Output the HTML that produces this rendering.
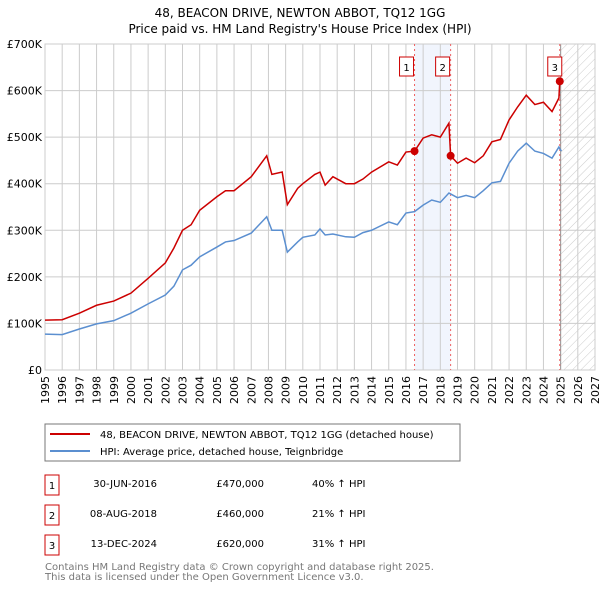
<!DOCTYPE html>
<html><head><meta charset="utf-8"><style>
body{margin:0;background:#fff;font-family:"DejaVu Sans","Liberation Sans",sans-serif}
svg text{font-family:"DejaVu Sans","Liberation Sans",sans-serif}
</style></head><body>
<svg id="chart" width="600" height="590" viewBox="0 0 600 590" xmlns="http://www.w3.org/2000/svg">
<defs><pattern id="hatch" width="6" height="6" patternUnits="userSpaceOnUse" patternTransform="rotate(45)"><line x1="0" y1="0" x2="0" y2="6" stroke="#ccc" stroke-width="1"/></pattern></defs>
<text x="300" y="17" text-anchor="middle" font-size="12">48, BEACON DRIVE, NEWTON ABBOT, TQ12 1GG</text>
<text x="300" y="33" text-anchor="middle" font-size="12">Price paid vs. HM Land Registry's House Price Index (HPI)</text>
<g id="grid"></g><g id="marks"></g><g id="axes"></g>
<rect x="45" y="424" width="415" height="37" fill="#fff" stroke="#777"/>
<line x1="50" y1="434" x2="90" y2="434" stroke="#cc0000" stroke-width="2"/>
<text x="100" y="438" font-size="10">48, BEACON DRIVE, NEWTON ABBOT, TQ12 1GG (detached house)</text>
<line x1="50" y1="451" x2="90" y2="451" stroke="#5b8fd0" stroke-width="2"/>
<text x="100" y="455" font-size="10">HPI: Average price, detached house, Teignbridge</text>
<g font-size="10">
<rect x="45" y="475" width="14" height="20" fill="#fff" stroke="#cc0000"/><text x="52" y="489" text-anchor="middle">1</text>
<text x="157" y="487" text-anchor="end">30-JUN-2016</text><text x="264" y="487" text-anchor="end">£470,000</text><text x="312" y="487">40% ↑ HPI</text>
<rect x="45" y="505" width="14" height="20" fill="#fff" stroke="#cc0000"/><text x="52" y="519" text-anchor="middle">2</text>
<text x="157" y="517" text-anchor="end">08-AUG-2018</text><text x="264" y="517" text-anchor="end">£460,000</text><text x="312" y="517">21% ↑ HPI</text>
<rect x="45" y="535" width="14" height="20" fill="#fff" stroke="#cc0000"/><text x="52" y="549" text-anchor="middle">3</text>
<text x="157" y="547" text-anchor="end">13-DEC-2024</text><text x="264" y="547" text-anchor="end">£620,000</text><text x="312" y="547">31% ↑ HPI</text>
</g>
<text x="45" y="570" font-size="10" fill="#777">Contains HM Land Registry data © Crown copyright and database right 2025.</text>
<text x="45" y="580" font-size="10" fill="#777">This data is licensed under the Open Government Licence v3.0.</text>
</svg>
<script>
const years=[1995,1996,1997,1998,1999,2000,2001,2002,2002.5,2003,2003.5,2004,2005,2005.5,2006,2007,2007.9,2008.2,2008.8,2009.1,2009.7,2010,2010.7,2011,2011.3,2011.75,2012.5,2013,2013.5,2014,2015,2015.5,2016,2016.5,2017,2017.5,2018,2018.5,2018.6,2019,2019.5,2020,2020.5,2021,2021.5,2022,2022.5,2023,2023.5,2024,2024.5,2024.9,2024.95,2025.05];
const hpiValues=[77,76,88,99,106,122,142,161,180,215,225,243,264,275,278,294,329,300,300,253,275,285,290,303,290,292,286,285,295,300,318,312,337,340,354,365,360,380,378,370,375,370,385,402,405,444,470,487,470,465,455,479,475,470];
const priceValues=[107,108,122,139,148,165,197,230,262,300,312,343,372,385,385,415,460,420,425,355,390,400,420,425,397,415,400,400,410,425,447,440,468,470,498,505,500,530,460,444,455,445,460,490,495,537,565,590,570,575,555,584,620,620];
const saleYears=[2016.5,2018.6,2024.95];
const saleValues=[470,460,620];
const saleLabels=["1","2","3"];
const yTicks=[0,100,200,300,400,500,600,700];
const yTickLabels=["£0","£100K","£200K","£300K","£400K","£500K","£600K","£700K"];
const xTicks=[1995,1996,1997,1998,1999,2000,2001,2002,2003,2004,2005,2006,2007,2008,2009,2010,2011,2012,2013,2014,2015,2016,2017,2018,2019,2020,2021,2022,2023,2024,2025,2026,2027];
const X0=45,X1=595,Y0=370,Y1=44;
const xs=y=>X0+(y-1995)/(2027-1995)*(X1-X0);
const ys=v=>Y0-v/700*(Y0-Y1);
const NS="http://www.w3.org/2000/svg";
function mk(parent,tag,attrs){const e=document.createElementNS(NS,tag);for(const k in attrs)e.setAttribute(k,attrs[k]);parent.appendChild(e);return e;}
const grid=document.getElementById('grid'),marks=document.getElementById('marks'),axes=document.getElementById('axes');
mk(grid,'rect',{x:X0,y:Y1,width:X1-X0,height:Y0-Y1,fill:'#fff'});
const band=mk(grid,'rect',{x:xs(saleYears[0]),y:Y1,width:xs(saleYears[1])-xs(saleYears[0]),height:Y0-Y1,fill:'#eef3fc',opacity:0.8});


const hat=mk(grid,'rect',{x:xs(2025),y:Y1,width:X1-xs(2025),height:Y0-Y1,fill:'url(#hatch)'});


xTicks.forEach(t=>{mk(grid,'line',{x1:xs(t),x2:xs(t),y1:Y1,y2:Y0,stroke:'#ccc','stroke-width':1});
const tx=mk(axes,'text',{x:0,y:0,'font-size':11,'text-anchor':'end',transform:`translate(${xs(t)+4},${Y0+6}) rotate(-90)`});tx.textContent=t;

});
yTicks.forEach((t,i)=>{mk(grid,'line',{x1:X0,x2:X1,y1:ys(t),y2:ys(t),stroke:'#ccc','stroke-width':1});
const tx=mk(axes,'text',{x:X0-3,y:ys(t)+4,'font-size':11,'text-anchor':'end'});tx.textContent=yTickLabels[i];

});
mk(grid,'line',{x1:xs(2025),x2:xs(2025),y1:Y1,y2:Y0,stroke:'#999','stroke-width':1});
mk(grid,'rect',{x:X0,y:Y1,width:X1-X0,height:Y0-Y1,fill:'none',stroke:'#ccc'});
saleYears.forEach(s=>{const l=mk(marks,'line',{x1:xs(s),x2:xs(s),y1:Y1,y2:Y0,stroke:'#f06060','stroke-dasharray':'2,3'});

});
const hp=mk(marks,'polyline',{points:years.map((y,i)=>xs(y)+','+ys(hpiValues[i])).join(' '),fill:'none',stroke:'#5b8fd0','stroke-width':1.5});


const pp=mk(marks,'polyline',{points:years.map((y,i)=>xs(y)+','+ys(priceValues[i])).join(' '),fill:'none',stroke:'#cc0000','stroke-width':1.5});


saleYears.forEach((s,i)=>{const c=mk(marks,'circle',{cx:xs(s),cy:ys(saleValues[i]),r:4,fill:'#cc0000'});


const bx=xs(s)-(i==2?5:8);
const r=mk(marks,'rect',{x:bx-7,y:57,width:14,height:19,fill:'#fff',stroke:'#cc0000'});


const t=mk(marks,'text',{x:bx,y:71,'font-size':10,'text-anchor':'middle'});t.textContent=saleLabels[i];

});
</script>
</body></html>
